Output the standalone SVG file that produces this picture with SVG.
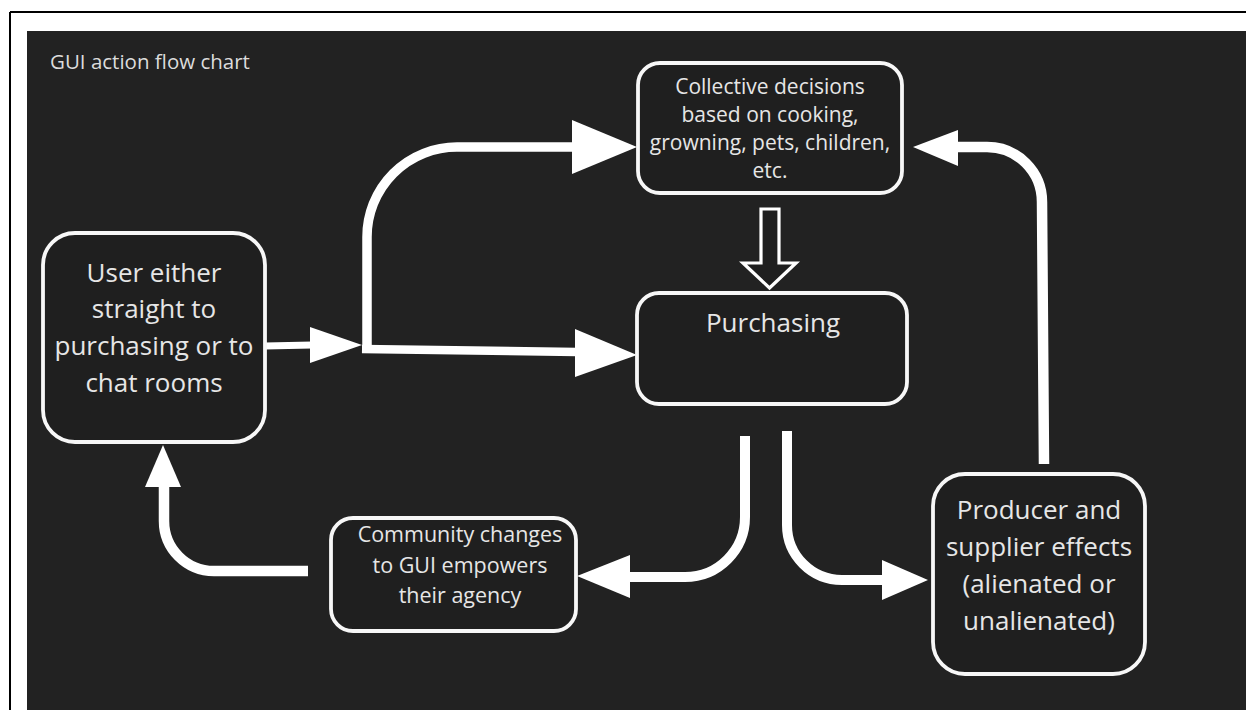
<svg xmlns="http://www.w3.org/2000/svg" width="1246" height="710" viewBox="0 0 1246 710">
  <style>
    .panel { fill: #222222; }
    .frame { stroke: #000000; stroke-width: 2; fill: none; }
    .box { fill: #1f1f1f; stroke: #f7f7f7; stroke-width: 3.8; }
    .label { font-family: "Open Sans", "Liberation Sans", sans-serif; fill: #e6e6e6; text-anchor: middle; }
    .title { font-family: "Open Sans", "Liberation Sans", sans-serif; fill: #dcdcdc; font-size: 20.5px; }
    .wire { fill: none; stroke: #ffffff; stroke-linecap: butt; stroke-linejoin: round; }
    .head { fill: #ffffff; stroke: none; }
    .hollow { fill: #1f1f1f; stroke: #ffffff; stroke-width: 3.2; stroke-linejoin: miter; }
  </style>

  <!-- page and dark canvas -->
  <rect x="0" y="0" width="1246" height="710" fill="#ffffff"/>
  <rect class="panel" x="27" y="31" width="1219" height="679"/>
  <line class="frame" x1="10" y1="12" x2="1246" y2="12"/>
  <line class="frame" x1="10" y1="12" x2="10" y2="710"/>

  <text class="title" x="50" y="69">GUI action flow chart</text>

  <!-- connectors -->
  <g id="connectors">
    <!-- user to branch point -->
    <path class="wire" stroke-width="7" d="M265,346 L312,345"/>
    <polygon class="head" points="310,327 362,345 310,363"/>

    <!-- branch up to collective decisions -->
    <path class="wire" stroke-width="9.5" d="M367,350 L367,237 A90,90 0 0 1 457,147 L575,147"/>
    <polygon class="head" points="572,120 637,147 572,174"/>

    <!-- branch straight to purchasing -->
    <path class="wire" stroke-width="8.5" d="M362,349 L577,352"/>
    <polygon class="head" points="575,329 637,355 575,377"/>

    <!-- collective decisions feed purchasing -->
    <polygon class="hollow" points="761,209 779,209 779,263 796,263 769.5,288 743,263 761,263"/>

    <!-- purchasing to community changes -->
    <path class="wire" stroke-width="10" d="M745,436 L745,517 A60,60 0 0 1 685,577 L628,577"/>
    <polygon class="head" points="630,555 577,576 630,598"/>

    <!-- purchasing to producer effects -->
    <path class="wire" stroke-width="10" d="M787,431 L787,525 A55,55 0 0 0 842,580 L884,580"/>
    <polygon class="head" points="882,560 928,580 882,600"/>

    <!-- producer effects back to collective decisions -->
    <path class="wire" stroke-width="10.5" d="M1044,464 L1042,202 A55,55 0 0 0 987,147 L956,147"/>
    <polygon class="head" points="958,130 913,147 958,166"/>

    <!-- community changes back to the user -->
    <path class="wire" stroke-width="10.5" d="M308,571 L214,571 A50,50 0 0 1 164,521 L164,485"/>
    <polygon class="head" points="145,487 163,445 181,487"/>
  </g>

  <!-- nodes -->
  <g id="node-user">
    <rect class="box" x="43" y="233" width="222" height="209" rx="32" ry="32"/>
    <text class="label" font-size="26" x="154" y="282">User either</text>
    <text class="label" font-size="26" x="154" y="318">straight to</text>
    <text class="label" font-size="26" x="154" y="355">purchasing or to</text>
    <text class="label" font-size="26" x="154" y="392">chat rooms</text>
  </g>

  <g id="node-collective">
    <rect class="box" x="638" y="63" width="264" height="130" rx="22" ry="22"/>
    <text class="label" font-size="21" x="770" y="94">Collective decisions</text>
    <text class="label" font-size="21" x="770" y="122">based on cooking,</text>
    <text class="label" font-size="21" x="770" y="150">growning, pets, children,</text>
    <text class="label" font-size="21" x="770" y="178">etc.</text>
  </g>

  <g id="node-purchasing">
    <rect class="box" x="637" y="293" width="270" height="111" rx="22" ry="22"/>
    <text class="label" font-size="26" x="773" y="332">Purchasing</text>
  </g>

  <g id="node-community">
    <rect class="box" x="331" y="518" width="245" height="113" rx="22" ry="22"/>
    <text class="label" font-size="21.5" x="460" y="542">Community changes</text>
    <text class="label" font-size="21.5" x="460" y="573">to GUI empowers</text>
    <text class="label" font-size="21.5" x="460" y="603">their agency</text>
  </g>

  <g id="node-producer">
    <rect class="box" x="933" y="474" width="212" height="200" rx="32" ry="32"/>
    <text class="label" font-size="26" x="1039" y="519">Producer and</text>
    <text class="label" font-size="26" x="1039" y="556">supplier effects</text>
    <text class="label" font-size="26" x="1039" y="593">(alienated or</text>
    <text class="label" font-size="26" x="1039" y="630">unalienated)</text>
  </g>
</svg>
